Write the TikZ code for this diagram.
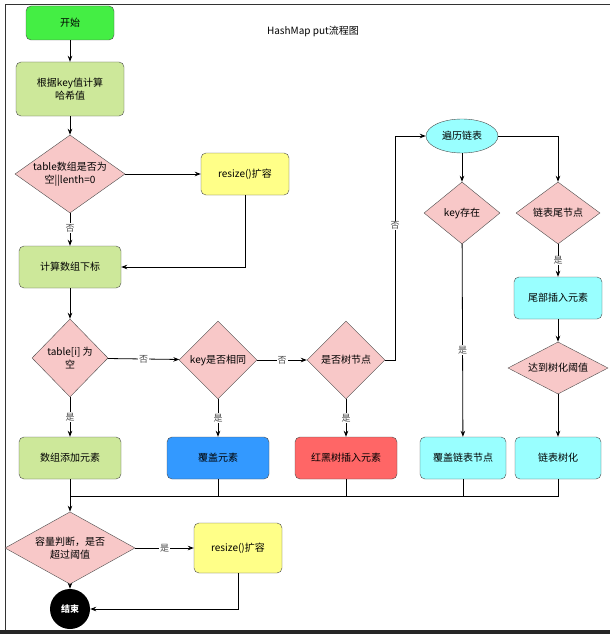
\documentclass[tikz,border=0pt]{standalone}
\usepackage{fontspec}
\setmainfont{Noto Sans CJK SC}
\usetikzlibrary{shapes.geometric,arrows.meta}
\definecolor{startg}{HTML}{44EE44}
\definecolor{stepg}{HTML}{CDE89A}
\definecolor{askr}{HTML}{F8C8C8}
\definecolor{resy}{HTML}{FFFF88}
\definecolor{coverb}{HTML}{3399FF}
\definecolor{rbred}{HTML}{FF6666}
\definecolor{listc}{HTML}{99FFFF}
\tikzset{
  box/.style={draw=black!70,rounded corners=5pt,align=center,inner sep=1pt,font=\fontsize{10}{13}\selectfont},
  ask/.style={draw=black!70,fill=askr,diamond,aspect=1.4,inner sep=0pt,align=center,font=\fontsize{10}{13}\selectfont},
  go/.style={-{Stealth[length=6pt]},thick},
  lbl/.style={fill=white,inner sep=1pt,font=\fontsize{9}{10}\selectfont,text=black!70}
}
\begin{document}
\begin{tikzpicture}[x=1pt,y=-1pt]
  \useasboundingbox (0,0) rectangle (610,634);
  \draw[black!80,thick] (5,634) -- (5,4) -- (610,4);
  \fill[black!85] (0,630) rectangle (610,634);
  \node[font=\fontsize{10}{12}\selectfont] (title) at (313,31) {HashMap put流程图};
  % left column
  \node[box,fill=startg,minimum width=88,minimum height=34] (start) at (70,23) {开始};
  \node[box,fill=stepg,minimum width=108,minimum height=54] (hash) at (70,89) {根据key值计算\\哈希值};
  \node[ask,minimum width=110,minimum height=78] (empty) at (70,174) {table数组是否为\\空||lenth=0};
  \node[box,fill=resy,minimum width=88,minimum height=42] (grow) at (245,174) {resize()扩容};
  \node[box,fill=stepg,minimum width=102,minimum height=42] (index) at (70,267) {计算数组下标};
  \node[ask,minimum width=70,minimum height=78] (slot) at (70,358) {table[i] 为\\空};
  \node[ask,minimum width=78,minimum height=78] (same) at (218,360) {key是否相同};
  \node[ask,minimum width=78,minimum height=78] (tree) at (346,360) {是否树节点};
  % right columns
  \node[draw=black!70,fill=listc,ellipse,minimum width=72,minimum height=34,font=\fontsize{10}{13}\selectfont] (walk) at (462,136) {遍历链表};
  \node[ask,minimum width=76,minimum height=62] (exist) at (462,213) {key存在};
  \node[ask,minimum width=84,minimum height=62] (tail) at (558,213) {链表尾节点};
  \node[box,fill=listc,minimum width=88,minimum height=42] (append) at (558,298) {尾部插入元素};
  \node[ask,minimum width=100,minimum height=48] (limit) at (558,368) {达到树化阈值};
  % result row
  \node[box,fill=stepg,minimum width=102,minimum height=42] (add) at (70,458) {数组添加元素};
  \node[box,fill=coverb,minimum width=102,minimum height=42] (cover) at (218,458) {覆盖元素};
  \node[box,fill=rbred,minimum width=102,minimum height=42] (rbins) at (346,458) {红黑树插入元素};
  \node[box,fill=listc,minimum width=86,minimum height=42] (covnode) at (463,458) {覆盖链表节点};
  \node[box,fill=listc,minimum width=86,minimum height=42] (treeify) at (558,458) {链表树化};
  % bottom
  \node[ask,minimum width=130,minimum height=72] (cap) at (70,548) {容量判断，是否\\超过阈值};
  \node[box,fill=resy,minimum width=88,minimum height=50] (grow2) at (238,548) {resize()扩容};
  \node[circle,fill=black,text=white,minimum size=40,inner sep=0pt,font=\fontsize{9}{10}\selectfont\bfseries] (stop) at (70,609) {结束};
  \coordinate (bus) at (70,496);
  % connectors
  \draw[go] (start) -- (hash);
  \draw[go] (hash) -- (empty);
  \draw[go] (empty) -- node[lbl,pos=0.45]{否} (index);
  \draw[go] (empty) -- (grow);
  \draw[go] (grow.south) |- (index.east);
  \draw[go] (index) -- (slot);
  \draw[go] (slot) -- node[lbl]{否} (same);
  \draw[go] (same) -- node[lbl]{否} (tree);
  \draw[go] (tree.east) -- ++(10,0) |- node[lbl,pos=0.3]{否} (walk.west);
  \draw[go] (walk) -- (exist);
  \draw[go] (walk.east) -| (tail.north);
  \draw[go] (exist) -- node[lbl,pos=0.55]{是} (covnode);
  \draw[go] (tail) -- node[lbl]{是} (append);
  \draw[go] (append) -- (limit);
  \draw[go] (limit) -- (treeify);
  \draw[go] (slot) -- node[lbl]{是} (add);
  \draw[go] (same) -- node[lbl]{是} (cover);
  \draw[go] (tree) -- node[lbl]{是} (rbins);
  \draw[thick] (treeify.south) |- (bus);
  \foreach \n in {cover,rbins,covnode}
    \draw[thick] (\n.south) -- (\n.south |- bus);
  \draw[go] (add) -- (cap);
  \draw[go] (cap) -- node[lbl]{是} (grow2);
  \draw[go] (cap) -- (stop);
  \draw[go] (grow2.south) |- (stop.east);
\end{tikzpicture}
\end{document}
